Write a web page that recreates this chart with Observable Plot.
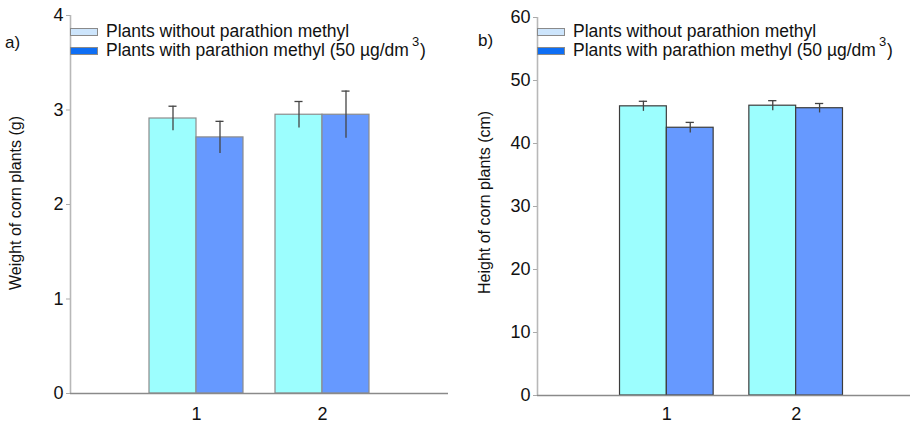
<!DOCTYPE html>
<html>
<head>
<meta charset="utf-8">
<script src="https://cdn.jsdelivr.net/npm/d3@7"></script>
<script src="https://cdn.jsdelivr.net/npm/@observablehq/plot@0.6"></script>
<style>
  html, body { margin: 0; padding: 0; background: #fff; overflow: hidden; }
  #wrap { position: relative; width: 910px; height: 424px; overflow: hidden; font-family: "Liberation Sans", Arial, sans-serif; color: #111; }
  .panel { position: absolute; top: 0; line-height: 0; }
  .panel svg { overflow: visible; max-width: none !important; }
  .tag { position: absolute; font-size: 17px; }
  .ylab { position: absolute; font-size: 16px; white-space: nowrap; transform-origin: 0 0; transform: rotate(-90deg); }
  .legend { position: absolute; font-size: 17.5px; line-height: 19px; white-space: nowrap; }
  .legend .row { display: flex; align-items: center; height: 19px; }
  .legend .sw { width: 26px; height: 6px; border: 1px solid #8a8a8a; margin-right: 8px; }
  .legend sup { font-size: 13px; position: relative; top: -9px; vertical-align: top; margin-left: 3px; }
</style>
</head>
<body>
<div id="wrap"></div>
<script>
// ---- data ----
const categories = [1, 2];
const seriesNames = ["Plants without parathion methyl", "Plants with parathion methyl (50 \u00b5g/dm"];
const weightWithout = [2.91, 2.95];
const weightWithoutErr = [0.13, 0.14];
const weightWith = [2.71, 2.95];
const weightWithErr = [0.17, 0.25];
const heightWithout = [45.9, 46.0];
const heightWithoutErr = [0.8, 0.8];
const heightWith = [42.5, 45.6];
const heightWithErr = [0.85, 0.75];
const weightTicks = [0, 1, 2, 3, 4];
const heightTicks = [0, 10, 20, 30, 40, 50, 60];

const barColors = ["#9cfefe", "#6699ff"];
const legendColors = ["#cde5fc", "#0e6ef4"];

function rows(without, withoutErr, withV, withErr, w) {
  const out = [];
  categories.forEach((c, i) => {
    out.push({series: 0, x1: c - w, x2: c, xc: c - w / 2, v: without[i], e: withoutErr[i]});
    out.push({series: 1, x1: c, x2: c + w, xc: c + w / 2, v: withV[i], e: withErr[i]});
  });
  return out;
}

function panel({data, yMax, yTicks, width, marginLeft, marginRight, marginTop, marginBottom, stroke, xPad}) {
  const cap = 0.032;
  return Plot.plot({
    width, height: 424,
    marginLeft, marginRight, marginTop, marginBottom,
    style: {fontFamily: "Liberation Sans, Arial, sans-serif", color: "#111", background: "transparent", overflow: "visible", maxWidth: "none"},
    x: {domain: [0, 3]},
    y: {domain: [0, yMax]},
    marks: [
      Plot.rectY(data, {x1: "x1", x2: "x2", y1: 0, y2: "v", fill: d => barColors[d.series], stroke, strokeWidth: 1.2}),
      Plot.ruleX(data, {x: "xc", y1: d => d.v - d.e, y2: d => d.v + d.e, stroke: "#444", strokeWidth: 1.3}),
      Plot.ruleY(data, {y: d => d.v + d.e, x1: d => d.xc - cap, x2: d => d.xc + cap, stroke: "#444", strokeWidth: 1.3}),
      Plot.ruleX([0], {stroke: "#b8b8b8", strokeWidth: 1.6}),
      Plot.ruleY([0], {stroke: "#8a8a8a", strokeWidth: 1.6}),
      Plot.axisX(categories, {tickSize: 0, tickPadding: xPad, fontSize: 18, tickFormat: d => String(d), label: null, fill: "#111"}),
      Plot.axisY(yTicks, {tickSize: 4, tickPadding: 3, fontSize: 18, tickFormat: d => String(d), label: null, stroke: "#aaa", fill: "#111"})
    ]
  });
}

const wrap = document.getElementById("wrap");

function addPanel(left, width, plotEl, tag, tagPos, ylabel, ylabPos, legendPos) {
  const p = document.createElement("div");
  p.className = "panel";
  p.style.left = left + "px";
  p.style.width = width + "px";
  p.appendChild(plotEl);
  wrap.appendChild(p);

  const t = document.createElement("div");
  t.className = "tag"; t.textContent = tag;
  t.style.left = tagPos[0] + "px"; t.style.top = tagPos[1] + "px";
  wrap.appendChild(t);

  const yl = document.createElement("div");
  yl.className = "ylab"; yl.textContent = ylabel;
  yl.style.left = ylabPos[0] + "px"; yl.style.top = ylabPos[1] + "px";
  wrap.appendChild(yl);

  const lg = document.createElement("div");
  lg.className = "legend";
  lg.style.left = legendPos[0] + "px"; lg.style.top = legendPos[1] + "px";
  seriesNames.forEach((name, i) => {
    const r = document.createElement("div");
    r.className = "row";
    const sw = document.createElement("div");
    sw.className = "sw"; sw.style.background = legendColors[i];
    r.appendChild(sw);
    const tx = document.createElement("span");
    tx.textContent = name;
    r.appendChild(tx);
    if (i === 1) {
      const sup = document.createElement("sup"); sup.textContent = "3";
      r.appendChild(sup);
      const cl = document.createElement("span"); cl.textContent = ")"; cl.style.marginLeft = "1px";
      r.appendChild(cl);
    }
    lg.appendChild(r);
  });
  wrap.appendChild(lg);
}

const left = panel({
  data: rows(weightWithout, weightWithoutErr, weightWith, weightWithErr, 0.373),
  yMax: 4, yTicks: weightTicks, width: 455,
  marginLeft: 70, marginRight: 7, marginTop: 15, marginBottom: 31, stroke: "#8c8c8c", xPad: 14
});
addPanel(0, 455, left, "a)", [5, 33], "Weight of corn plants (g)", [7, 290], [70, 22]);

const right = panel({
  data: rows(heightWithout, heightWithoutErr, heightWith, heightWithErr, 0.362),
  yMax: 60, yTicks: heightTicks, width: 470,
  marginLeft: 82, marginRight: 0, marginTop: 17, marginBottom: 29, stroke: "#3c3c3c", xPad: 12
});
addPanel(455, 470, right, "b)", [478, 31], "Height of corn plants (cm)", [476, 294], [537, 22]);
</script>
</body>
</html>
